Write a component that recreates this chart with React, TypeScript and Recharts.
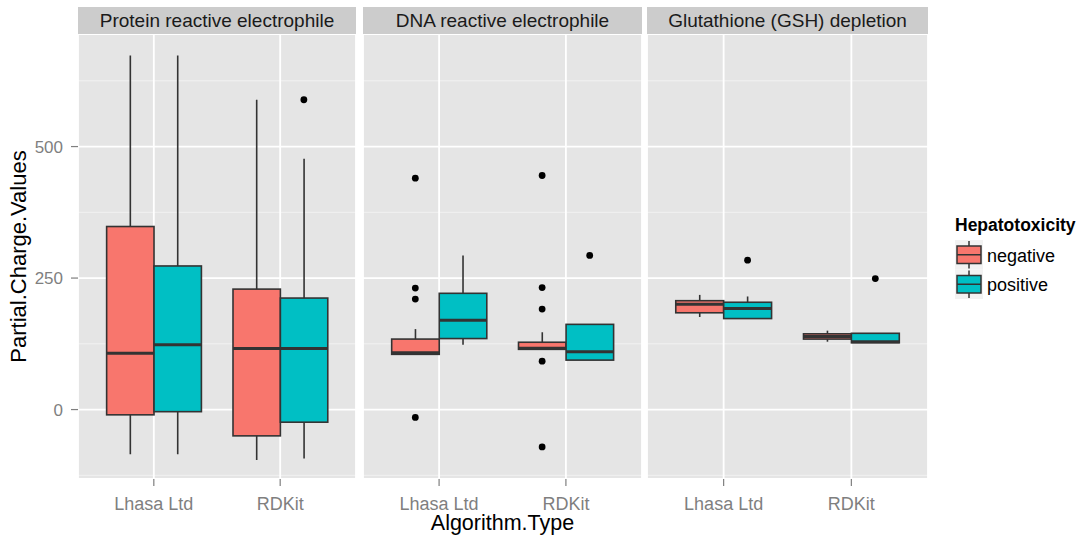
import React from 'react';
import { ComposedChart, Bar, Scatter, XAxis, YAxis, CartesianGrid, Legend } from 'recharts';

// ---- data -------------------------------------------------------------
const categories = ['Lhasa Ltd', 'RDKit'];
const groupNames = ['negative', 'positive'];
const groupColors = ['#F8766D', '#00BFC4'];
const panelTitles = ['Protein reactive electrophile', 'DNA reactive electrophile', 'Glutathione (GSH) depletion'];
const yTicks = [0, 250, 500];
const yMinorTicks = [-125, 125, 375, 625];
const yDomain: [number, number] = [-132, 714];

// five-number summaries per category: [lower whisker, Q1, median, Q3, upper whisker]
const proteinNegative = [[-85, -10, 107, 348, 673], [-96, -50, 116, 229, 589]];
const proteinPositive = [[-85, -4, 123, 273, 673], [-93, -24, 116, 212, 477]];
const proteinNegativeOutliers = [[], [] as number[]];
const proteinPositiveOutliers = [[], [589]];

const dnaNegative = [[105, 105, 108, 134, 153], [114, 114.5, 116.5, 128, 147]];
const dnaPositive = [[123, 135, 170, 221, 293], [94, 94, 110, 162, 162]];
const dnaNegativeOutliers = [[440, 231, 210, -15], [445, 232, 191, 92, -71]];
const dnaPositiveOutliers = [[], [293]];

const gshNegative = [[176, 184, 200, 207, 218], [129, 134, 139, 144, 150]];
const gshPositive = [[173, 173, 192, 204, 215], [127, 127, 129, 145, 145]];
const gshNegativeOutliers = [[], [] as number[]];
const gshPositiveOutliers = [[284], [249]];

// ---- helpers ----------------------------------------------------------
const FONT = '"Liberation Sans", Arial, Helvetica, sans-serif';
const dodgeWidth = 0.75;

function buildRows(stats: number[][][]) {
  return categories.map((cat, i) => {
    const row: any = { cat };
    stats.forEach((s, g) => {
      const [lo, q1, med, q3, hi] = s[i];
      row[`w${g}`] = [lo, hi];
      row[`b${g}`] = [q1, q3];
      row[`m${g}`] = [q1, med];
    });
    return row;
  });
}

function buildPoints(outliers: number[][][]) {
  const pts: { x: number; y: number }[] = [];
  outliers.forEach((perCat, g) =>
    perCat.forEach((vals, i) =>
      vals.forEach((v) => pts.push({ x: i + 1 + (g - 0.5) * (dodgeWidth / 2), y: v }))
    )
  );
  return pts;
}

const panels = [
  { title: panelTitles[0], rows: buildRows([proteinNegative, proteinPositive]), points: buildPoints([proteinNegativeOutliers, proteinPositiveOutliers]) },
  { title: panelTitles[1], rows: buildRows([dnaNegative, dnaPositive]), points: buildPoints([dnaNegativeOutliers, dnaPositiveOutliers]) },
  { title: panelTitles[2], rows: buildRows([gshNegative, gshPositive]), points: buildPoints([gshNegativeOutliers, gshPositiveOutliers]) },
];

const panelLefts = [78, 363, 647];
const panelWidths = [278, 279, 281];
const PLOT_TOP = 34;
const PLOT_H = 445;
const XAXIS_H = 60;
const YAXIS_W = 78;

const EDGE = '#333333';

const WhiskerShape = (p: any) => {
  if (p == null || !isFinite(p.y) || !isFinite(p.height)) return <g />;
  const cx = p.x + p.width / 2;
  return <line x1={cx} x2={cx} y1={p.y} y2={p.y + p.height} stroke={EDGE} strokeWidth={1.6} />;
};
const makeBoxShape = (fill: string) => (p: any) => {
  if (p == null || !isFinite(p.y) || !isFinite(p.height)) return <g />;
  return <rect x={p.x} y={p.y} width={p.width} height={Math.max(p.height, 0.01)} fill={fill} stroke={EDGE} strokeWidth={1.6} />;
};
const MedianShape = (p: any) => {
  if (p == null || !isFinite(p.y)) return <g />;
  return <line x1={p.x} x2={p.x + p.width} y1={p.y} y2={p.y} stroke={EDGE} strokeWidth={3} />;
};
const PointShape = (p: any) => <circle cx={p.cx} cy={p.cy} r={3.4} fill="#000000" />;

const renderLegend = () => (
  <svg width={130} height={95} style={{ overflow: 'visible', display: 'block' }}>
    <text x={1} y={21} fontFamily={FONT} fontSize={17.5} fontWeight="bold" fill="#000000">Hepatotoxicity</text>
    {groupNames.map((name, i) => {
      const top = 30 + i * 29.5;
      return (
        <g key={name}>
          <rect x={1} y={top} width={28} height={29.5} fill="#F2F2F2" />
          <line x1={15} x2={15} y1={top + 1} y2={top + 28.5} stroke={EDGE} strokeWidth={1.5} />
          <rect x={3} y={top + 6} width={24} height={17.5} fill={groupColors[i]} stroke={EDGE} strokeWidth={1.5} />
          <line x1={3} x2={27} y1={top + 14.75} y2={top + 14.75} stroke={EDGE} strokeWidth={1.5} />
          <text x={33} y={top + 21.5} fontFamily={FONT} fontSize={18} fill="#000000">{name}</text>
        </g>
      );
    })}
  </svg>
);

const YTitle = (props: any) => {
  const vb = props.viewBox || { x: 0, y: 0, width: YAXIS_W, height: PLOT_H };
  const x = vb.x + 18;
  const y = vb.y + vb.height / 2;
  return (
    <text x={x} y={y} transform={`rotate(-90, ${x}, ${y})`} textAnchor="middle" dominantBaseline="central"
      fontFamily={FONT} fontSize={22} fill="#000000">Partial.Charge.Values</text>
  );
};
const XTitle = (props: any) => {
  const vb = props.viewBox || { x: 0, y: PLOT_H, width: 279, height: XAXIS_H };
  return (
    <text x={vb.x + vb.width / 2} y={vb.y + 51} textAnchor="middle" fontFamily={FONT} fontSize={21.5} fill="#000000">
      Algorithm.Type
    </text>
  );
};

function Panel({ idx }: { idx: number }) {
  const panel = panels[idx];
  const plotWidth = panelWidths[idx];
  const showY = idx === 0;
  const pad = (plotWidth * 0.1) / 2.2;
  const band = plotWidth / 2.2;
  const barSize = (band * dodgeWidth) / 2;
  const chartWidth = plotWidth + (showY ? YAXIS_W : 0);
  const left = panelLefts[idx] - (showY ? YAXIS_W : 0);
  const catAxisProps = { dataKey: 'cat', padding: { left: pad, right: pad }, interval: 0 as const };

  return (
    <>
      <div
        style={{
          position: 'absolute', left: panelLefts[idx], top: 7, width: plotWidth, height: 27,
          background: '#CCCCCC', color: '#1A1A1A', fontFamily: FONT, fontSize: 19,
          lineHeight: '28px', textAlign: 'center', whiteSpace: 'nowrap',
        }}
      >
        {panel.title}
      </div>
      <div style={{ position: 'absolute', left, top: PLOT_TOP }}>
        <ComposedChart width={chartWidth} height={PLOT_H + XAXIS_H} data={panel.rows}
          margin={{ top: 0, right: 0, bottom: 0, left: 0 }} barGap={0}>
          <CartesianGrid xAxisId="box" yAxisId="minor" vertical={false} fill="#E5E5E5" stroke="#F2F2F2" strokeWidth={1} />
          <CartesianGrid xAxisId="box" yAxisId="v" stroke="#FFFFFF" strokeWidth={1.8} />
          <XAxis xAxisId="box" {...catAxisProps} height={XAXIS_H} axisLine={false}
            tickLine={{ stroke: '#7F7F7F', strokeWidth: 1.2 }} tickSize={7} tickMargin={11}
            tick={{ fill: '#7F7F7F', fontSize: 18, fontFamily: FONT }}
            label={idx === 1 ? { content: XTitle } : undefined} />
          <XAxis xAxisId="wh" {...catAxisProps} hide height={0} />
          <XAxis xAxisId="md" {...catAxisProps} hide height={0} />
          <XAxis xAxisId="pt" type="number" dataKey="x" domain={[0.4, 2.6]} allowDataOverflow hide height={0} />
          <YAxis yAxisId="minor" orientation="right" width={0} domain={yDomain} ticks={yMinorTicks} allowDataOverflow hide />
          <YAxis yAxisId="v" domain={yDomain} ticks={yTicks} allowDataOverflow hide={!showY} width={YAXIS_W}
            axisLine={false} tickLine={{ stroke: '#7F7F7F', strokeWidth: 1.2 }} tickSize={7} tickMargin={8}
            tick={{ fill: '#7F7F7F', fontSize: 17, fontFamily: FONT }}
            label={showY ? { content: YTitle } : undefined} />
          {groupNames.map((g, gi) => (
            <Bar key={`w${gi}`} xAxisId="wh" yAxisId="v" dataKey={`w${gi}`} barSize={barSize}
              shape={WhiskerShape} isAnimationActive={false} legendType="none" />
          ))}
          {groupNames.map((g, gi) => (
            <Bar key={`b${gi}`} xAxisId="box" yAxisId="v" dataKey={`b${gi}`} name={g} barSize={barSize}
              fill={groupColors[gi]} shape={makeBoxShape(groupColors[gi])} isAnimationActive={false} />
          ))}
          {groupNames.map((g, gi) => (
            <Bar key={`m${gi}`} xAxisId="md" yAxisId="v" dataKey={`m${gi}`} barSize={barSize}
              shape={MedianShape} isAnimationActive={false} legendType="none" />
          ))}
          <Scatter xAxisId="pt" yAxisId="v" data={panel.points} dataKey="y" shape={PointShape}
            isAnimationActive={false} legendType="none" />
          {idx === 2 && (
            <Legend content={renderLegend} layout="horizontal" align="center" verticalAlign="middle"
              wrapperStyle={{ left: 954 - panelLefts[2], top: 210 - PLOT_TOP, width: 130, height: 95 }} />
          )}
        </ComposedChart>
      </div>
    </>
  );
}

export default function App() {
  return (
    <div style={{ position: 'absolute', left: 0, top: 0, width: 1079, height: 539, background: '#FFFFFF' }}>
      {panels.map((_, i) => (
        <Panel key={i} idx={i} />
      ))}
    </div>
  );
}
